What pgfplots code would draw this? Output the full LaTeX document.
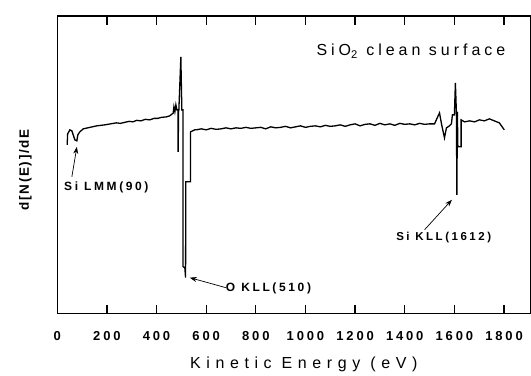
\documentclass[border=0pt]{standalone}
\usepackage{fontspec}
\setmainfont{Liberation Sans}[LetterSpace=22]
\newfontfamily\yfont{Liberation Sans}[LetterSpace=12]
\newfontfamily\xfont{Liberation Sans}[LetterSpace=35]
\newfontfamily\tfont{Liberation Sans}[LetterSpace=25]
\usepackage{pgfplots}
\pgfplotsset{compat=1.18}
\usetikzlibrary{arrows.meta}
\begin{document}
\begin{tikzpicture}
\begin{axis}[
  scale only axis, width=473.7pt, height=298pt,
  xmin=0, xmax=1906, ymin=0, ymax=298,
  xtick={0,200,...,1800}, ytick=\empty,
  tick align=inside, major tick length=9pt,
  axis line style={line width=1.3pt, black},
  tick style={line width=1.3pt, black},
  /pgf/number format/assume math mode=true,
  /pgf/number format/set thousands separator={},
  xticklabel style={font=\fontsize{13}{15}\selectfont\bfseries, yshift=-14pt},
  xlabel={\xfont Kinetic Energy (eV)},
  xlabel style={font=\fontsize{16}{18}\selectfont, xshift=10pt, yshift=-10pt},
  ylabel={\yfont d[N(E)]/dE},
  ylabel style={font=\fontsize{13.5}{16}\selectfont\bfseries, yshift=22pt, xshift=-5pt},
]
\addplot[black, line width=1.3pt, line join=miter] coordinates {
(40,169) (42,180) (51,184) (59,183) (67,177) (71,174) (79,173) (83,179) (91,182) (105,185)
(132,186.5) (159,188) (192,189) (215,190) (239,191) (255,190.5) (272,191.5) (290,192.5) (305,192)
(320,193.5) (337,193) (355,194.5) (373,194) (390,195.5) (405,195.5) (420,196.5) (440,197) (453,198)
(467,200.7) (470,207) (474,202) (478,209) (482,204) (487,204) (487,162) (489,204) (490,204)
(498,257) (502,204) (507,204) (507,47) (514,46) (517,36) (518,132) (537,132) (537,182) (554,184)
(560,184) (580,185) (600,184) (620,185.5) (640,184.5) (660,185) (680,186) (700,185) (720,186)
(740,185.5) (760,186.5) (780,185.5) (800,186) (820,186.5) (840,185) (860,187) (880,186) (900,186.5)
(920,187.5) (940,186) (960,187) (980,188) (1000,186.5) (1020,187.5) (1040,188) (1060,187)
(1080,188.5) (1100,187.5) (1120,188) (1140,189) (1160,187.5) (1180,189) (1200,190) (1220,188)
(1240,189.5) (1260,190) (1280,188.5) (1300,190.5) (1320,189) (1340,190) (1360,188.5) (1380,190.5)
(1400,189.5) (1420,190) (1440,189) (1460,190.5) (1480,189.5) (1500,190) (1520,190)
(1540,201) (1548,190) (1560,176) (1568,186) (1580,188) (1588,190) (1592,199) (1600,199)
(1604,231) (1608,202) (1610,119) (1612,202) (1614,167) (1627,167) (1627,194)
(1641,192) (1661,193) (1681,192) (1701,194) (1721,193) (1741,195) (1761,193) (1781,191) (1801,184)
};
% annotations
\draw[-{Stealth[length=7pt,width=5pt]}, line width=0.7pt] (axis cs:59,137) -- (axis cs:79,167);
\draw[-{Stealth[length=7pt,width=5pt]}, line width=0.7pt] (axis cs:1480,84) -- (axis cs:1590,114);
\draw[-{Stealth[length=7pt,width=5pt]}, line width=0.7pt] (axis cs:679,26) -- (axis cs:534,36);
\node[anchor=west, inner sep=0pt, font=\fontsize{12}{14}\selectfont\bfseries] at (axis cs:27,126) {Si LMM(90)};
\node[anchor=west, inner sep=0pt, font=\fontsize{12}{14}\selectfont\bfseries] at (axis cs:679,25) {O KLL(510)};
\node[anchor=west, inner sep=0pt, font=\fontsize{11.5}{14}\selectfont\bfseries] at (axis cs:1365,76) {Si KLL(1612)};
\node[anchor=east, inner sep=0pt, font=\fontsize{16}{18}\selectfont] at (axis cs:1806,263) {\tfont SiO\textsubscript{2} clean surface};
\end{axis}
\path (current axis.south west) ++(-57.3pt,-58pt) rectangle ++(531pt,372pt);
\end{tikzpicture}
\end{document}
